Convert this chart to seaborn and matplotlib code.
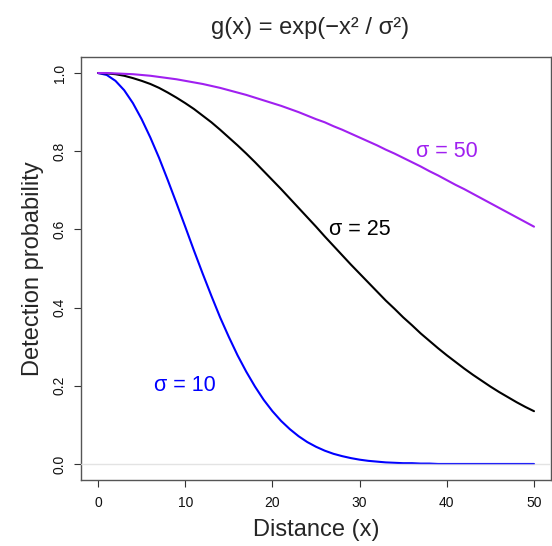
import numpy as np
import pandas as pd
import matplotlib
matplotlib.use("Agg")
import matplotlib.pyplot as plt
import seaborn as sns

# Distance grid and detection probabilities for three scale parameters
distance = [0, 1, 2, 3, 4, 5, 6, 7, 8, 9, 10, 11, 12, 13, 14, 15, 16, 17, 18, 19, 20,
            21, 22, 23, 24, 25, 26, 27, 28, 29, 30, 31, 32, 33, 34, 35, 36, 37, 38, 39, 40,
            41, 42, 43, 44, 45, 46, 47, 48, 49, 50]

p_sigma10 = [1.000, 0.995, 0.980, 0.956, 0.923, 0.882, 0.835, 0.783, 0.726, 0.667, 0.607,
             0.546, 0.487, 0.430, 0.375, 0.325, 0.278, 0.236, 0.198, 0.164, 0.135,
             0.110, 0.089, 0.071, 0.056, 0.044, 0.034, 0.026, 0.020, 0.015, 0.011,
             0.008, 0.006, 0.004, 0.003, 0.002, 0.002, 0.001, 0.001, 0.000, 0.000,
             0.000, 0.000, 0.000, 0.000, 0.000, 0.000, 0.000, 0.000, 0.000, 0.000]

p_sigma25 = [1.000, 0.999, 0.997, 0.993, 0.987, 0.980, 0.972, 0.962, 0.950, 0.937, 0.923,
             0.908, 0.891, 0.874, 0.855, 0.835, 0.815, 0.794, 0.772, 0.749, 0.726,
             0.703, 0.679, 0.655, 0.631, 0.607, 0.582, 0.558, 0.534, 0.510, 0.487,
             0.464, 0.441, 0.418, 0.397, 0.375, 0.355, 0.334, 0.315, 0.296, 0.278,
             0.261, 0.244, 0.228, 0.213, 0.198, 0.184, 0.171, 0.158, 0.146, 0.135]

p_sigma50 = [1.000, 1.000, 0.999, 0.998, 0.997, 0.995, 0.993, 0.990, 0.987, 0.984, 0.980,
             0.976, 0.972, 0.967, 0.962, 0.956, 0.950, 0.944, 0.937, 0.930, 0.923,
             0.916, 0.908, 0.900, 0.891, 0.882, 0.874, 0.864, 0.855, 0.845, 0.835,
             0.825, 0.815, 0.804, 0.794, 0.783, 0.772, 0.761, 0.749, 0.738, 0.726,
             0.714, 0.703, 0.691, 0.679, 0.667, 0.655, 0.643, 0.631, 0.619, 0.607]

sigma_names = ["10", "25", "50"]
sigma_colors = {"10": "#0000FF", "25": "#000000", "50": "#A020F0"}
label_pos = {"50": (40, 0.8), "25": (30, 0.6), "10": (10, 0.2)}

x_ticks = [0, 10, 20, 30, 40, 50]
y_ticks = [0.0, 0.2, 0.4, 0.6, 0.8, 1.0]

df = pd.concat([
    pd.DataFrame({"distance": distance, "p": vals, "sigma": name})
    for name, vals in zip(sigma_names, [p_sigma10, p_sigma25, p_sigma50])
])

sns.set_theme(style="ticks")
plt.rcParams["font.family"] = ["Liberation Sans", "DejaVu Sans"]

fig = plt.figure(figsize=(5.52, 5.46), dpi=100)
ax = fig.add_axes([0.146, 0.1216, 0.853, 0.7733])

sns.lineplot(data=df, x="distance", y="p", hue="sigma", palette=sigma_colors,
             linewidth=1.5, legend=False, ax=ax, sort=False)

# faint reference line at zero
ax.axhline(0, color="#dcdcdc", linewidth=1.0, zorder=5, alpha=0.8)

for name in sigma_names:
    xx, yy = label_pos[name]
    ax.text(xx, yy, "σ = " + name, color=sigma_colors[name], fontsize=15.5,
            ha="center", va="center")

ax.set_xlim(-2, 52)
ax.set_ylim(-0.04, 1.04)
ax.set_xticks(x_ticks)
ax.set_xticklabels([str(t) for t in x_ticks])
ax.set_yticks(y_ticks)
ax.set_yticklabels([f"{t:.1f}" for t in y_ticks], rotation=90, va="center")
ax.tick_params(axis="both", direction="out", length=5, width=0.8,
               color="#333333", labelsize=10, labelcolor="#111111")
ax.tick_params(axis="x", pad=7)
ax.tick_params(axis="y", pad=5)

for side in ["left", "right", "top", "bottom"]:
    ax.spines[side].set_visible(True)
    ax.spines[side].set_color("#555555")
    ax.spines[side].set_linewidth(1.0)

ax.set_xlabel("Distance (x)", fontsize=17, labelpad=6)
ax.set_ylabel("Detection probability", fontsize=17, labelpad=6)
fig.text(0.562, 0.948, "g(x) = exp(−x² / σ²)", fontsize=17, ha="center", va="center")

fig.savefig("out.png", dpi=100)
